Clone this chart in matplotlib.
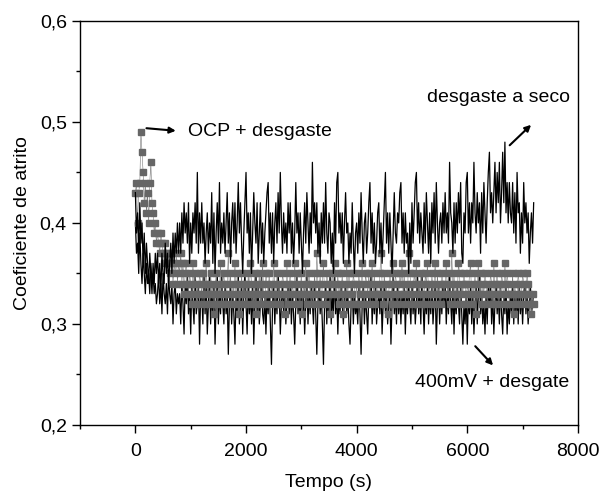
import numpy as np
import matplotlib
matplotlib.use("Agg")
import matplotlib.pyplot as plt
from matplotlib.ticker import MultipleLocator, FuncFormatter

plt.rcParams['font.family'] = ['Liberation Sans', 'DejaVu Sans']

# tempo (s), amostragem de 20 s
tempo = np.arange(0, 7201, 20)

# desgaste a seco
seco = [0.43,0.39,0.41,0.37,0.42,0.38,0.40,0.36,0.39,0.35,0.38,0.36,0.34,0.37,0.35,0.33,0.36,0.34,0.37,0.35,
        0.37,0.34,0.36,0.33,0.37,0.35,0.34,0.38,0.35,0.37,0.34,0.36,0.38,0.35,0.39,0.36,0.39,0.37,0.40,0.37,
        0.40,0.37,0.41,0.38,0.42,0.39,0.41,0.38,0.42,0.36,0.40,0.37,0.41,0.39,0.42,0.38,0.45,0.37,0.41,0.38,
        0.42,0.38,0.40,0.36,0.39,0.41,0.37,0.40,0.38,0.43,0.36,0.41,0.35,0.39,0.42,0.38,0.44,0.37,0.40,0.38,
        0.41,0.37,0.40,0.43,0.38,0.41,0.36,0.40,0.42,0.38,0.42,0.37,0.40,0.44,0.39,0.42,0.38,0.35,0.39,0.42,
        0.45,0.39,0.41,0.37,0.41,0.35,0.39,0.43,0.40,0.38,0.42,0.36,0.39,0.42,0.37,0.40,0.36,0.39,0.41,0.43,
        0.44,0.38,0.41,0.37,0.41,0.36,0.40,0.42,0.38,0.43,0.39,0.45,0.40,0.37,0.41,0.38,0.40,0.37,0.42,0.39,
        0.42,0.37,0.40,0.36,0.39,0.44,0.39,0.41,0.37,0.41,0.38,0.35,0.39,0.42,0.38,0.43,0.40,0.37,0.41,0.38,
        0.46,0.40,0.42,0.39,0.42,0.37,0.40,0.36,0.41,0.38,0.42,0.38,0.44,0.39,0.37,0.41,0.40,0.36,0.39,0.35,
        0.42,0.38,0.44,0.45,0.39,0.41,0.38,0.41,0.36,0.40,0.43,0.39,0.40,0.36,0.39,0.37,0.42,0.38,0.35,0.39,
        0.40,0.37,0.41,0.38,0.43,0.39,0.36,0.40,0.41,0.37,0.39,0.42,0.44,0.38,0.41,0.37,0.40,0.36,0.38,0.41,
        0.42,0.37,0.40,0.36,0.39,0.42,0.45,0.38,0.41,0.37,0.41,0.38,0.35,0.39,0.43,0.39,0.38,0.41,0.40,0.43,
        0.44,0.38,0.41,0.37,0.41,0.38,0.39,0.35,0.40,0.36,0.42,0.38,0.41,0.44,0.45,0.39,0.42,0.38,0.41,0.39,
        0.37,0.42,0.38,0.43,0.40,0.37,0.41,0.36,0.42,0.39,0.43,0.38,0.44,0.40,0.37,0.40,0.41,0.38,0.42,0.39,
        0.43,0.39,0.41,0.38,0.46,0.41,0.40,0.37,0.42,0.38,0.42,0.39,0.43,0.40,0.44,0.37,0.36,0.41,0.39,0.44,
        0.45,0.39,0.42,0.38,0.42,0.40,0.46,0.41,0.39,0.43,0.40,0.42,0.37,0.43,0.39,0.44,0.41,0.38,0.42,0.45,
        0.47,0.41,0.43,0.40,0.43,0.46,0.41,0.45,0.42,0.46,0.40,0.43,0.47,0.42,0.48,0.41,0.44,0.40,0.44,0.41,
        0.40,0.44,0.39,0.43,0.38,0.45,0.41,0.42,0.37,0.41,0.38,0.44,0.40,0.42,0.39,0.41,0.36,0.39,0.41,0.38,
        0.42]

# 400mV + desgaste
pot400 = [0.40,0.37,0.38,0.35,0.39,0.36,0.34,0.37,0.35,0.33,0.36,0.34,0.35,0.33,0.36,0.34,0.35,0.33,0.34,0.32,
          0.33,0.35,0.32,0.34,0.31,0.35,0.33,0.32,0.34,0.31,0.35,0.33,0.32,0.34,0.30,0.33,0.34,0.31,0.33,0.32,
          0.33,0.30,0.34,0.32,0.29,0.34,0.32,0.35,0.31,0.33,0.29,0.34,0.32,0.30,0.35,0.31,0.32,0.34,0.28,0.33,
          0.33,0.30,0.35,0.31,0.34,0.29,0.32,0.35,0.30,0.33,0.31,0.34,0.28,0.32,0.35,0.30,0.33,0.31,0.35,0.32,
          0.30,0.34,0.31,0.33,0.27,0.32,0.34,0.30,0.33,0.31,0.28,0.33,0.31,0.35,0.30,0.32,0.34,0.29,0.33,0.35,
          0.32,0.29,0.34,0.31,0.33,0.30,0.34,0.28,0.32,0.35,0.31,0.34,0.30,0.32,0.35,0.31,0.30,0.33,0.29,0.33,
          0.31,0.34,0.30,0.26,0.32,0.34,0.30,0.33,0.31,0.35,0.33,0.29,0.32,0.34,0.31,0.33,0.30,0.32,0.34,0.31,
          0.34,0.30,0.33,0.31,0.28,0.32,0.35,0.31,0.33,0.30,0.34,0.31,0.33,0.29,0.32,0.35,0.30,0.33,0.31,0.34,
          0.32,0.30,0.34,0.31,0.27,0.32,0.34,0.31,0.33,0.30,0.26,0.32,0.34,0.30,0.33,0.31,0.35,0.30,0.33,0.31,
          0.35,0.31,0.33,0.29,0.33,0.31,0.34,0.32,0.30,0.33,0.34,0.31,0.33,0.30,0.28,0.32,0.34,0.30,0.33,0.31,
          0.32,0.30,0.34,0.31,0.27,0.32,0.34,0.30,0.33,0.31,0.29,0.33,0.32,0.35,0.30,0.33,0.31,0.34,0.30,0.32,
          0.33,0.31,0.34,0.29,0.32,0.34,0.31,0.33,0.30,0.32,0.33,0.28,0.32,0.35,0.31,0.33,0.30,0.34,0.31,0.33,
          0.30,0.33,0.31,0.34,0.29,0.33,0.31,0.34,0.32,0.30,0.34,0.31,0.33,0.30,0.32,0.35,0.31,0.33,0.30,0.35,
          0.32,0.29,0.33,0.31,0.34,0.30,0.33,0.31,0.34,0.30,0.32,0.34,0.28,0.32,0.34,0.30,0.33,0.31,0.34,0.32,
          0.34,0.30,0.33,0.31,0.35,0.32,0.30,0.34,0.29,0.33,0.31,0.34,0.32,0.30,0.34,0.31,0.28,0.32,0.30,0.33,
          0.28,0.33,0.31,0.34,0.30,0.33,0.29,0.32,0.34,0.30,0.33,0.35,0.31,0.33,0.30,0.32,0.29,0.33,0.30,0.34,
          0.32,0.34,0.30,0.33,0.29,0.32,0.34,0.31,0.33,0.30,0.34,0.31,0.29,0.33,0.31,0.34,0.29,0.32,0.30,0.33,
          0.31,0.34,0.30,0.33,0.31,0.33,0.30,0.34,0.31,0.33,0.30,0.33,0.34,0.31,0.33,0.30,0.32,0.34,0.31,0.32,
          0.33]

# OCP + desgaste
ocp = [0.43,0.44,0.40,0.43,0.44,0.49,0.47,0.45,0.42,0.44,0.41,0.43,0.40,0.44,0.46,0.42,0.41,0.39,0.40,0.38,
       0.39,0.38,0.37,0.39,0.38,0.37,0.36,0.38,0.37,0.36,0.37,0.35,0.36,0.37,0.34,0.36,0.35,0.37,0.34,0.36,
       0.35,0.37,0.34,0.36,0.33,0.35,0.36,0.34,0.33,0.35,0.34,0.32,0.36,0.33,0.35,0.34,0.32,0.33,0.35,0.34,
       0.33,0.35,0.32,0.34,0.36,0.33,0.34,0.32,0.35,0.33,0.34,0.31,0.33,0.35,0.32,0.34,0.33,0.36,0.32,0.34,
       0.35,0.33,0.32,0.34,0.37,0.33,0.35,0.32,0.34,0.33,0.36,0.32,0.35,0.34,0.31,0.33,0.35,0.32,0.34,0.33,
       0.34,0.32,0.35,0.33,0.36,0.34,0.32,0.33,0.35,0.31,0.34,0.33,0.35,0.32,0.34,0.36,0.33,0.32,0.35,0.34,
       0.33,0.35,0.32,0.34,0.33,0.36,0.34,0.32,0.35,0.33,0.34,0.32,0.33,0.35,0.34,0.31,0.33,0.36,0.32,0.34,
       0.35,0.33,0.34,0.32,0.36,0.33,0.35,0.34,0.32,0.33,0.35,0.31,0.34,0.33,0.36,0.32,0.34,0.35,0.33,0.32,
       0.34,0.33,0.35,0.32,0.37,0.34,0.33,0.35,0.32,0.34,0.36,0.33,0.32,0.35,0.34,0.33,0.31,0.34,0.35,0.33,
       0.36,0.34,0.33,0.35,0.32,0.34,0.33,0.35,0.31,0.34,0.32,0.36,0.33,0.35,0.34,0.32,0.33,0.35,0.34,0.32,
       0.34,0.32,0.35,0.33,0.34,0.36,0.33,0.32,0.35,0.34,0.33,0.35,0.32,0.34,0.36,0.33,0.35,0.32,0.34,0.33,
       0.33,0.35,0.37,0.34,0.32,0.35,0.33,0.34,0.31,0.33,0.35,0.34,0.32,0.36,0.33,0.35,0.34,0.32,0.33,0.35,
       0.34,0.36,0.33,0.35,0.32,0.34,0.33,0.37,0.35,0.34,0.32,0.33,0.35,0.34,0.36,0.32,0.34,0.33,0.35,0.34,
       0.33,0.32,0.35,0.34,0.36,0.33,0.34,0.32,0.35,0.33,0.34,0.36,0.32,0.35,0.33,0.34,0.32,0.35,0.34,0.33,
       0.34,0.36,0.33,0.35,0.32,0.34,0.37,0.33,0.35,0.32,0.34,0.33,0.36,0.35,0.32,0.34,0.33,0.35,0.34,0.32,
       0.34,0.33,0.35,0.36,0.32,0.34,0.33,0.35,0.31,0.34,0.36,0.33,0.35,0.32,0.34,0.33,0.35,0.34,0.32,0.33,
       0.33,0.35,0.34,0.32,0.36,0.33,0.34,0.35,0.32,0.34,0.33,0.35,0.34,0.32,0.36,0.33,0.35,0.34,0.32,0.33,
       0.33,0.35,0.31,0.34,0.32,0.33,0.35,0.34,0.32,0.33,0.35,0.34,0.33,0.32,0.35,0.34,0.33,0.32,0.31,0.33,
       0.32]

fig = plt.figure(figsize=(6.02, 4.94), dpi=100)
ax = fig.add_axes([0.133, 0.1397, 0.827, 0.818])

ax.plot(tempo, pot400, color='black', lw=0.9)
ax.plot(tempo, ocp, color='#777777', lw=0.4, marker='s', ms=4.5,
        mec='#666666', mfc='#666666')
ax.plot(tempo, seco, color='black', lw=0.9)

ax.set_xlim(-1000, 8000)
ax.set_ylim(0.2, 0.6)
ax.xaxis.set_major_locator(MultipleLocator(2000))
ax.xaxis.set_minor_locator(MultipleLocator(1000))
ax.yaxis.set_major_locator(MultipleLocator(0.1))
ax.yaxis.set_minor_locator(MultipleLocator(0.05))
ax.yaxis.set_major_formatter(FuncFormatter(lambda v, p: ('%.1f' % v).replace('.', ',')))
ax.tick_params(which='major', direction='out', length=6, width=1, labelsize=14)
ax.tick_params(which='minor', direction='out', length=3, width=1)
ax.tick_params(axis='x', pad=7)
for s in ax.spines.values():
    s.set_linewidth(1)

ax.set_xlabel('Tempo (s)', fontsize=14, labelpad=10)
ax.set_ylabel('Coeficiente de atrito', fontsize=14, labelpad=6)

arr = dict(arrowstyle='-|>', color='black', lw=1.5, mutation_scale=9)
ax.annotate('', xy=(780, 0.491), xytext=(150, 0.494), arrowprops=arr)
ax.text(950, 0.491, 'OCP + desgaste', fontsize=14, va='center')
ax.annotate('', xy=(7190, 0.499), xytext=(6730, 0.475), arrowprops=arr)
ax.text(7850, 0.524, 'desgaste a seco', fontsize=14, va='center', ha='right')
ax.annotate('', xy=(6500, 0.257), xytext=(6110, 0.280), arrowprops=arr)
ax.text(7850, 0.242, '400mV + desgate', fontsize=14, va='center', ha='right')

fig.savefig('out.png', dpi=100)
